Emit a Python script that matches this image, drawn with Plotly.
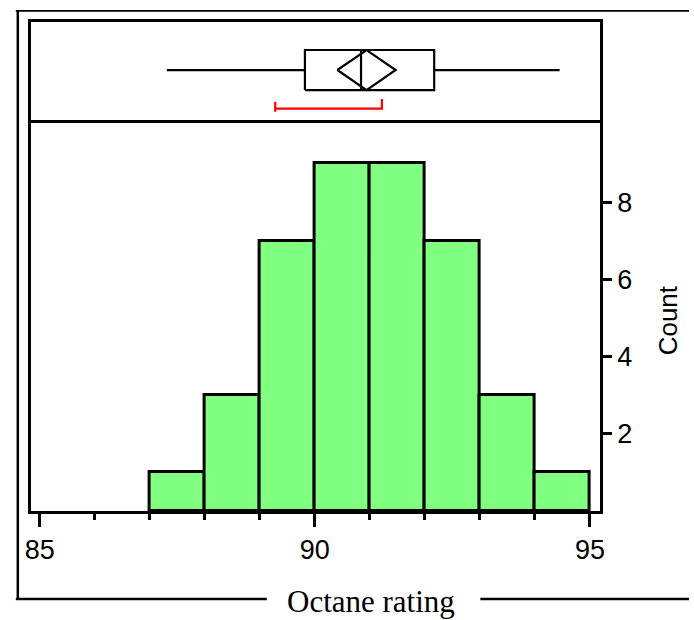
import plotly.graph_objects as go

# ---- data ----
bin_left = [87, 88, 89, 90, 91, 92, 93, 94]
bin_right = [88, 89, 90, 91, 92, 93, 94, 95]
counts = [1, 3, 7, 9, 9, 7, 3, 1]

whisker_low = 87.31
q1 = 89.82
median = 90.84
q3 = 92.17
whisker_high = 94.45
mean = 90.94
mean_ci_low = 90.41
mean_ci_high = 91.47
short_half_low = 89.28
short_half_high = 91.22

x_tickvals = [85, 90, 95]
y_tickvals = [2, 4, 6, 8]

W, H = 694, 620
def px(x):
    return x / W
def py(y):
    return 1 - y / H

xdom = [px(25), px(603.3)]
hist_dom = [py(511), py(121)]
box_dom = [py(119.5), py(22.3)]
xrange_ = [84.834, 95.179]

fig = go.Figure()

centers = [(a + b) / 2 for a, b in zip(bin_left, bin_right)]
widths = [b - a for a, b in zip(bin_left, bin_right)]
fig.add_trace(go.Bar(
    x=centers, y=counts, width=widths,
    marker=dict(color="#80FF80", line=dict(color="black", width=3)),
    xaxis="x", yaxis="y", showlegend=False, hoverinfo="skip"))

LW = 2.2
blk = dict(color="black", width=LW)
# whiskers
fig.add_trace(go.Scatter(x=[whisker_low, q1, None, q3, whisker_high],
                         y=[0.509, 0.509, None, 0.509, 0.509],
                         mode="lines", line=blk, xaxis="x2", yaxis="y2",
                         showlegend=False, hoverinfo="skip"))
# box
fig.add_trace(go.Scatter(x=[q1, q3, q3, q1, q1], y=[0.303, 0.303, 0.715, 0.715, 0.303],
                         mode="lines", line=blk, xaxis="x2", yaxis="y2",
                         showlegend=False, hoverinfo="skip"))
# median
fig.add_trace(go.Scatter(x=[median, median], y=[0.303, 0.715],
                         mode="lines", line=blk, xaxis="x2", yaxis="y2",
                         showlegend=False, hoverinfo="skip"))
# mean diamond
fig.add_trace(go.Scatter(x=[mean_ci_low, mean, mean_ci_high, mean, mean_ci_low],
                         y=[0.509, 0.715, 0.509, 0.303, 0.509],
                         mode="lines", line=blk, xaxis="x2", yaxis="y2",
                         showlegend=False, hoverinfo="skip"))
# shortest half (red)
red = dict(color="#FF0000", width=2.2)
fig.add_trace(go.Scatter(x=[short_half_low, short_half_low, None,
                            short_half_low, short_half_high, short_half_high],
                         y=[0.183, 0.080, None, 0.111, 0.111, 0.211],
                         mode="lines", line=red, xaxis="x2", yaxis="y2",
                         showlegend=False, hoverinfo="skip"))

tickfont = dict(family="Liberation Sans, Arial, sans-serif", size=27, color="black")

fig.update_layout(
    width=W, height=H,
    margin=dict(l=0, r=0, t=0, b=0),
    paper_bgcolor="white", plot_bgcolor="white",
    bargap=0,
    xaxis=dict(domain=xdom, range=xrange_, anchor="y",
               tickvals=x_tickvals, ticks="outside", ticklen=13, tickwidth=3,
               tickcolor="black",
               minor=dict(dtick=1, tick0=85, ticks="outside", ticklen=6,
                          tickwidth=2.5, tickcolor="black", showgrid=False),
               showline=True, linewidth=3, linecolor="black", mirror=False,
               showgrid=False, zeroline=False, tickfont=tickfont),
    yaxis=dict(domain=hist_dom, range=[0, 10.1], anchor="x", side="right",
               tickvals=y_tickvals, ticks="outside", ticklen=9, tickwidth=3,
               tickcolor="black",
               showline=True, linewidth=3, linecolor="black", mirror=True,
               showgrid=False, zeroline=False, tickfont=tickfont),
    xaxis2=dict(domain=xdom, range=xrange_, anchor="y2", matches="x",
                showticklabels=False, ticks="",
                showline=True, linewidth=3, linecolor="black", mirror=True,
                showgrid=False, zeroline=False),
    yaxis2=dict(domain=box_dom, range=[0, 1], anchor="x2",
                showticklabels=False, ticks="",
                showline=True, linewidth=3, linecolor="black", mirror=True,
                showgrid=False, zeroline=False),
)

# outer frame
frame = dict(color="black", width=2.5)
fig.add_shape(type="line", xref="paper", yref="paper", x0=px(10), x1=px(694),
              y0=py(10.8), y1=py(10.8), line=dict(color="black", width=1.8))
fig.add_shape(type="line", xref="paper", yref="paper", x0=px(12), x1=px(12),
              y0=py(10), y1=py(600), line=frame)
fig.add_shape(type="line", xref="paper", yref="paper", x0=px(10), x1=px(265),
              y0=py(599), y1=py(599), line=frame)
fig.add_shape(type="line", xref="paper", yref="paper", x0=px(482), x1=px(694),
              y0=py(599), y1=py(599), line=frame)

fig.add_annotation(text="Octane rating", xref="paper", yref="paper",
                   x=px(371), y=py(601), showarrow=False,
                   xanchor="center", yanchor="middle",
                   font=dict(family="Liberation Serif, Times New Roman, serif",
                             size=31, color="black"))
fig.add_annotation(text="Count", xref="paper", yref="paper",
                   x=px(673), y=py(320), showarrow=False, textangle=-90,
                   xanchor="center", yanchor="middle",
                   font=dict(family="Liberation Sans, Arial, sans-serif",
                             size=26, color="black"))

fig.write_html("out.html", config={"displayModeBar": False},
               post_script="document.body.style.margin='0px';document.body.style.overflow='hidden';")
